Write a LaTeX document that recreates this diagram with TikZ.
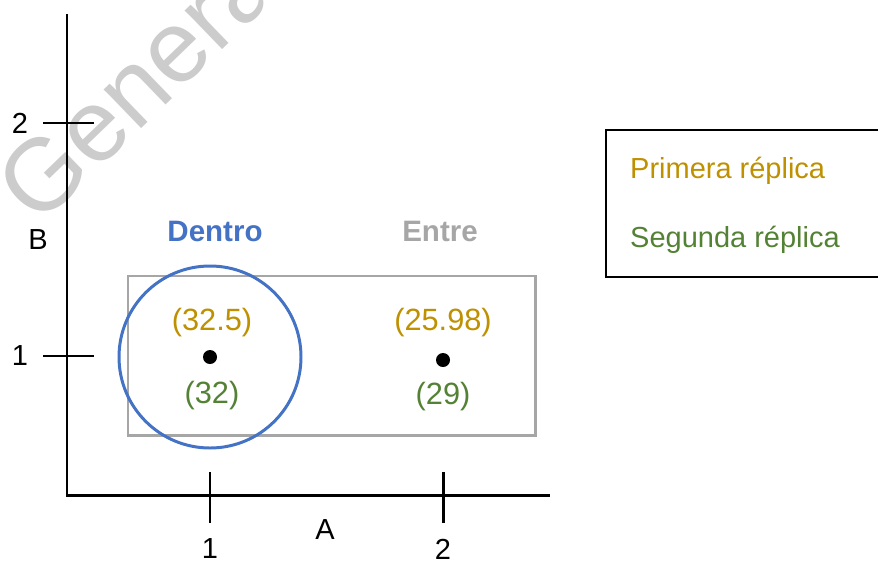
\documentclass[tikz,border=0pt]{standalone}
\usepackage{fontspec}
\setmainfont{Liberation Sans}
\usetikzlibrary{arrows.meta}
\definecolor{oro}{HTML}{BF9000}
\definecolor{verde}{HTML}{548235}
\definecolor{azul}{HTML}{4472C4}
\definecolor{gris}{HTML}{A6A6A6}
\tikzset{
  axis/.style={line width=1.7pt},
  lbl/.style={font=\fontsize{16.5}{19}\selectfont},
  cell/.style={font=\fontsize{17.5}{20}\selectfont},
  first/.style={text=oro},
  second/.style={text=verde},
  head/.style={font=\fontsize{16.8}{19}\selectfont\bfseries},
}

\begin{document}
\begin{tikzpicture}[x=0.02cm,y=-0.02cm]
			\clip (0,0) rectangle (878,561);
			\fill[white] (0,0) rectangle (878,561);
			% watermark
			\node[anchor=base west, rotate=44, text=black!20, font=\fontsize{58}{60}\selectfont, inner sep=0pt] (wm) at (38,228) {Genera};
			
			% axes
			\draw[axis] (67,14) -- (67,495) -- (550,495);
			\draw[axis] (43,123) -- (94,123);
			\draw[axis] (43,356) -- (94,356);
			\draw[axis] (210,472) -- (210,523);
			\draw[axis] (443,472) -- (443,523);
			\node[lbl] (y2) at (20,123) {2};
			\node[lbl] (y1) at (20,356) {1};
			\node[lbl] (x1) at (210,549) {1};
			\node[lbl] (x2) at (443,549) {2};
			\node[lbl] (xA) at (325,530) {A};
			\node[lbl] (yB) at (38,240) {B};
			
			% groups
			\draw[gris, line width=1.7pt] (128,276) rectangle (535,435);
			\draw[azul, line width=1.7pt] (210,357) circle[radius=91];
			\node[head, text=azul] (dentro) at (215,231) {Dentro};
			\node[head, text=gris] (entre) at (440,231) {Entre};
			
			% cells
			\fill (210,357) circle[radius=7];
			\fill (443,360) circle[radius=7];
			\node[cell, first] (c1a) at (212,323) {(32.5)};
			\node[cell, second] (c1b) at (212,396) {(32)};
			\node[cell, first] (c2a) at (443,323) {(25.98)};
			\node[cell, second] (c2b) at (443,397) {(29)};
			
			% legend
			\draw[line width=1pt] (606,130) rectangle (900,277);
			\node[lbl, first, anchor=west] (leg1) at (624,171) {Primera réplica};
			\node[lbl, second, anchor=west] (leg2) at (624,240) {Segunda réplica};
		\end{tikzpicture}
\end{document}
